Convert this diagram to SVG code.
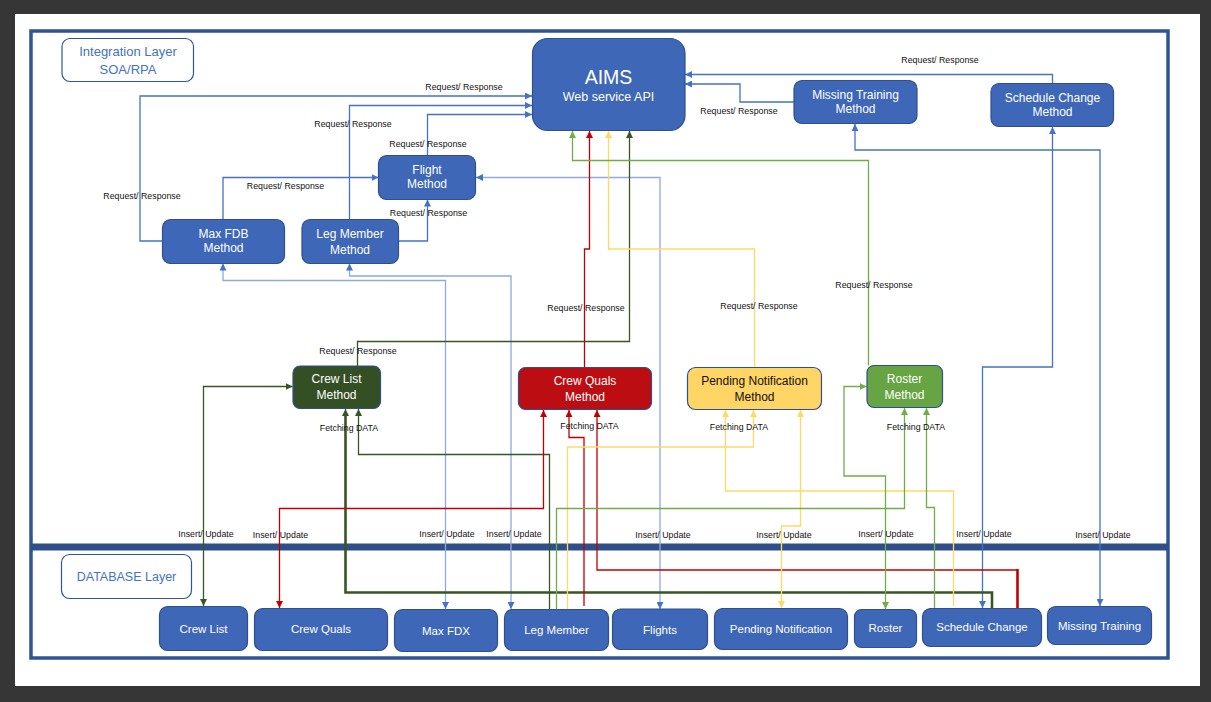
<svg xmlns="http://www.w3.org/2000/svg" width="1211" height="702" viewBox="0 0 1211 702">
<style>
.node rect{fill:#3E67B7;stroke:#2F4F8F;stroke-width:1.2}
.t{font-family:"Liberation Sans",Arial,sans-serif;fill:#fff;text-anchor:middle}
.n12{font-size:12px}
.n11{font-size:11.5px}
.lbl{font-family:"Liberation Sans",Arial,sans-serif;font-size:8.8px;fill:#111;text-anchor:middle}
.layer rect{fill:#fff;stroke:#2F5597;stroke-width:1.2}
.layer text{font-family:"Liberation Sans",Arial,sans-serif;fill:#4472C4;text-anchor:middle}
.c path{fill:none;stroke-width:1.3}
.c path.thick{stroke-width:2.6}
.b{stroke:#4472C4}
.lb{stroke:#8EA9DB}
.dg{stroke:#375623}
.r{stroke:#C00000}
.y{stroke:#FFD966}
.g{stroke:#70AD47}
</style>
<defs>
<marker id="mB" viewBox="0 0 10 10" refX="10" refY="5" markerWidth="7" markerHeight="7" markerUnits="userSpaceOnUse" orient="auto-start-reverse"><path d="M0,0L10,5L0,10z" fill="#4472C4"/></marker>
<marker id="mLB" viewBox="0 0 10 10" refX="10" refY="5" markerWidth="7" markerHeight="7" markerUnits="userSpaceOnUse" orient="auto-start-reverse"><path d="M0,0L10,5L0,10z" fill="#4472C4"/></marker>
<marker id="mDG" viewBox="0 0 10 10" refX="10" refY="5" markerWidth="7" markerHeight="7" markerUnits="userSpaceOnUse" orient="auto-start-reverse"><path d="M0,0L10,5L0,10z" fill="#375623"/></marker>
<marker id="mR" viewBox="0 0 10 10" refX="10" refY="5" markerWidth="7" markerHeight="7" markerUnits="userSpaceOnUse" orient="auto-start-reverse"><path d="M0,0L10,5L0,10z" fill="#C00000"/></marker>
<marker id="mY" viewBox="0 0 10 10" refX="10" refY="5" markerWidth="7" markerHeight="7" markerUnits="userSpaceOnUse" orient="auto-start-reverse"><path d="M0,0L10,5L0,10z" fill="#FFD966"/></marker>
<marker id="mG" viewBox="0 0 10 10" refX="10" refY="5" markerWidth="7" markerHeight="7" markerUnits="userSpaceOnUse" orient="auto-start-reverse"><path d="M0,0L10,5L0,10z" fill="#70AD47"/></marker>
</defs>
<rect x="0" y="0" width="1211" height="702" fill="#363636"/>
<rect x="15" y="14" width="1185" height="672" fill="#ffffff"/>
<rect x="31" y="31" width="1137" height="627" fill="none" stroke="#2F5496" stroke-width="3.5"/>
<rect x="31" y="543.5" width="1137" height="7" fill="#2F4F8A"/>

<g id="layer-integration" class="layer"><rect x="62" y="38.5" width="131.5" height="43" rx="8"/><text x="128" y="56" font-size="13">Integration Layer</text><text x="128" y="74" font-size="13">SOA/RPA</text></g>
<g id="layer-database" class="layer"><rect x="61.5" y="554.5" width="130" height="44" rx="8"/><text x="126.5" y="581" font-size="12.5">DATABASE Layer</text></g>

<g id="connectors" class="c">
<path class="b" d="M162,241H140V96H532" marker-end="url(#mB)"/>
<path class="b" d="M349.5,219V105.5H532" marker-end="url(#mB)"/>
<path class="b" d="M427.5,155.5V114.5H532" marker-end="url(#mB)"/>
<path class="b" d="M223,219.5V177.5H378.5" marker-end="url(#mB)"/>
<path class="b" d="M398.5,241H427.5V199.5" marker-end="url(#mB)"/>
<path class="b" d="M794,102H740V84H685" marker-end="url(#mB)"/>
<path class="b" d="M1052.5,83.5V74.5H685" marker-end="url(#mB)"/>
<path class="lb" d="M223,263.5V280.5H445.5V609" marker-start="url(#mLB)" marker-end="url(#mLB)"/>
<path class="lb" d="M349.5,263.5V276H511V609" marker-start="url(#mLB)" marker-end="url(#mLB)"/>
<path class="lb" d="M476,177.5H660V609" marker-start="url(#mLB)" marker-end="url(#mLB)"/>
<path class="b" d="M855,124V150H1100V606" marker-start="url(#mB)" marker-end="url(#mB)"/>
<path class="b" d="M1052.5,127V367H982.5V608" marker-start="url(#mB)" marker-end="url(#mB)"/>
<path class="dg" d="M357.5,366V341.5H629.5V131" marker-end="url(#mDG)"/>
<path class="dg" d="M292.5,386.5H203.5V606" marker-start="url(#mDG)" marker-end="url(#mDG)"/>
<path class="dg thick" d="M345.5,416V592.5H992V608"/>
<path class="dg" d="M345.5,417V409" marker-end="url(#mDG)"/>
<path class="dg" d="M358.5,409V454.5H549.5V609" marker-start="url(#mDG)"/>
<path class="r" d="M584.5,367.5V249H589.5V131" marker-end="url(#mR)"/>
<path class="r" d="M543.5,410V508.5H279.5V608" marker-start="url(#mR)" marker-end="url(#mR)"/>
<path class="r" d="M569,410V437.5H584V606" marker-start="url(#mR)"/>
<path class="r" d="M597,410V570H1017.5" marker-start="url(#mR)"/>
<path class="r thick" d="M1017.5,569V608"/>
<path class="y" d="M754.5,367.5V249H608.5V131" marker-end="url(#mY)"/>
<path class="y" d="M753.5,410V447H567.5V609" marker-start="url(#mY)"/>
<path class="y" d="M725.5,410V491H953.5V606" marker-start="url(#mY)"/>
<path class="y" d="M800.5,410V526H781.5V608" marker-start="url(#mY)" marker-end="url(#mY)"/>
<path class="g" d="M868.5,365.5V160.5H572.5V131" marker-end="url(#mG)"/>
<path class="g" d="M866.5,386.5H844V476H885.5V609" marker-start="url(#mG)" marker-end="url(#mG)"/>
<path class="g" d="M904.5,408V508.5H556.5V609" marker-start="url(#mG)"/>
<path class="g" d="M926.5,408V507.5H934.5V608" marker-start="url(#mG)"/>
<text class="lbl" x="142" y="199">Request/ Response</text>
<text class="lbl" x="464" y="90">Request/ Response</text>
<text class="lbl" x="353" y="127">Request/ Response</text>
<text class="lbl" x="428" y="147">Request/ Response</text>
<text class="lbl" x="285.5" y="189">Request/ Response</text>
<text class="lbl" x="428.5" y="216">Request/ Response</text>
<text class="lbl" x="739" y="114">Request/ Response</text>
<text class="lbl" x="940" y="63">Request/ Response</text>
<text class="lbl" x="358" y="354">Request/ Response</text>
<text class="lbl" x="586" y="311">Request/ Response</text>
<text class="lbl" x="759" y="309">Request/ Response</text>
<text class="lbl" x="874" y="288">Request/ Response</text>
<text class="lbl" x="349" y="431">Fetching DATA</text>
<text class="lbl" x="589.5" y="429">Fetching DATA</text>
<text class="lbl" x="739" y="430">Fetching DATA</text>
<text class="lbl" x="916" y="430">Fetching DATA</text>
<text class="lbl" x="206" y="537">Insert/ Update</text>
<text class="lbl" x="280.5" y="537.5">Insert/ Update</text>
<text class="lbl" x="447" y="537">Insert/ Update</text>
<text class="lbl" x="514" y="537">Insert/ Update</text>
<text class="lbl" x="663" y="538">Insert/ Update</text>
<text class="lbl" x="784" y="538">Insert/ Update</text>
<text class="lbl" x="886" y="537">Insert/ Update</text>
<text class="lbl" x="984" y="537">Insert/ Update</text>
<text class="lbl" x="1103" y="538">Insert/ Update</text>
</g>

<g id="aims" class="node"><rect x="532.5" y="38.5" width="152.5" height="92" rx="15"/><text class="t" x="608.5" y="83.5" font-size="19.5">AIMS</text><text class="t" x="608.5" y="101" font-size="12.5">Web service API</text></g>
<g id="missing-training-method" class="node"><rect x="794" y="80.5" width="123" height="43" rx="8"/><text class="t n12" x="855.5" y="99">Missing Training</text><text class="t n12" x="855.5" y="113">Method</text></g>
<g id="schedule-change-method" class="node"><rect x="991" y="83.5" width="122.5" height="43" rx="8"/><text class="t n12" x="1052.5" y="102">Schedule Change</text><text class="t n12" x="1052.5" y="116">Method</text></g>
<g id="flight-method" class="node"><rect x="378.5" y="155.5" width="97" height="44" rx="8"/><text class="t n12" x="427" y="174">Flight</text><text class="t n12" x="427" y="188">Method</text></g>
<g id="max-fdb-method" class="node"><rect x="162.5" y="219.5" width="122" height="44" rx="8"/><text class="t n12" x="223.5" y="238">Max FDB</text><text class="t n12" x="223.5" y="252">Method</text></g>
<g id="leg-member-method" class="node"><rect x="302" y="219.5" width="96.5" height="44" rx="8"/><text class="t n12" x="350" y="238">Leg Member</text><text class="t n12" x="350" y="254">Method</text></g>
<g id="crew-list-method" class="node"><rect x="293" y="366" width="87.5" height="42.5" rx="7" style="fill:#344F24;stroke:#2F4F8F"/><text class="t n12" x="336.5" y="383">Crew List</text><text class="t n12" x="336.5" y="399">Method</text></g>
<g id="crew-quals-method" class="node"><rect x="518.5" y="367.5" width="133" height="42" rx="7" style="fill:#BB0D12;stroke:#2F4F8F"/><text class="t n12" x="585" y="385">Crew Quals</text><text class="t n12" x="585" y="401">Method</text></g>
<g id="pending-notification-method" class="node"><rect x="687.5" y="367.5" width="134" height="42" rx="8" style="fill:#FFD565;stroke:#2F4F8F"/><text class="t n12" x="754.5" y="385" style="fill:#111">Pending Notification</text><text class="t n12" x="754.5" y="401" style="fill:#111">Method</text></g>
<g id="roster-method" class="node"><rect x="867" y="365.5" width="75.5" height="42" rx="7" style="fill:#67A544;stroke:#2F4F8F"/><text class="t n12" x="904.5" y="383">Roster</text><text class="t n12" x="904.5" y="399">Method</text></g>

<g id="db-crew-list" class="node"><rect x="159.5" y="606.5" width="88" height="44" rx="8"/><text class="t n11" x="203.5" y="632.5">Crew List</text></g>
<g id="db-crew-quals" class="node"><rect x="254.5" y="608.5" width="133" height="42" rx="8"/><text class="t n11" x="321" y="633">Crew Quals</text></g>
<g id="db-max-fdx" class="node"><rect x="394.5" y="609.5" width="103" height="42" rx="8"/><text class="t n11" x="446" y="635">Max FDX</text></g>
<g id="db-leg-member" class="node"><rect x="504.5" y="609.5" width="104" height="41" rx="8"/><text class="t n11" x="556.5" y="634">Leg Member</text></g>
<g id="db-flights" class="node"><rect x="612.5" y="609" width="95" height="40.5" rx="8"/><text class="t n11" x="660" y="634">Flights</text></g>
<g id="db-pending-notification" class="node"><rect x="714.5" y="608.5" width="133" height="41" rx="8"/><text class="t n11" x="781" y="633">Pending Notification</text></g>
<g id="db-roster" class="node"><rect x="854.5" y="609.5" width="62" height="38" rx="7"/><text class="t n11" x="885.5" y="632">Roster</text></g>
<g id="db-schedule-change" class="node"><rect x="922.5" y="608.5" width="119" height="38" rx="8"/><text class="t n11" x="982" y="631">Schedule Change</text></g>
<g id="db-missing-training" class="node"><rect x="1047.5" y="606.5" width="104" height="38" rx="8"/><text class="t n11" x="1099.5" y="630">Missing Training</text></g>
</svg>
